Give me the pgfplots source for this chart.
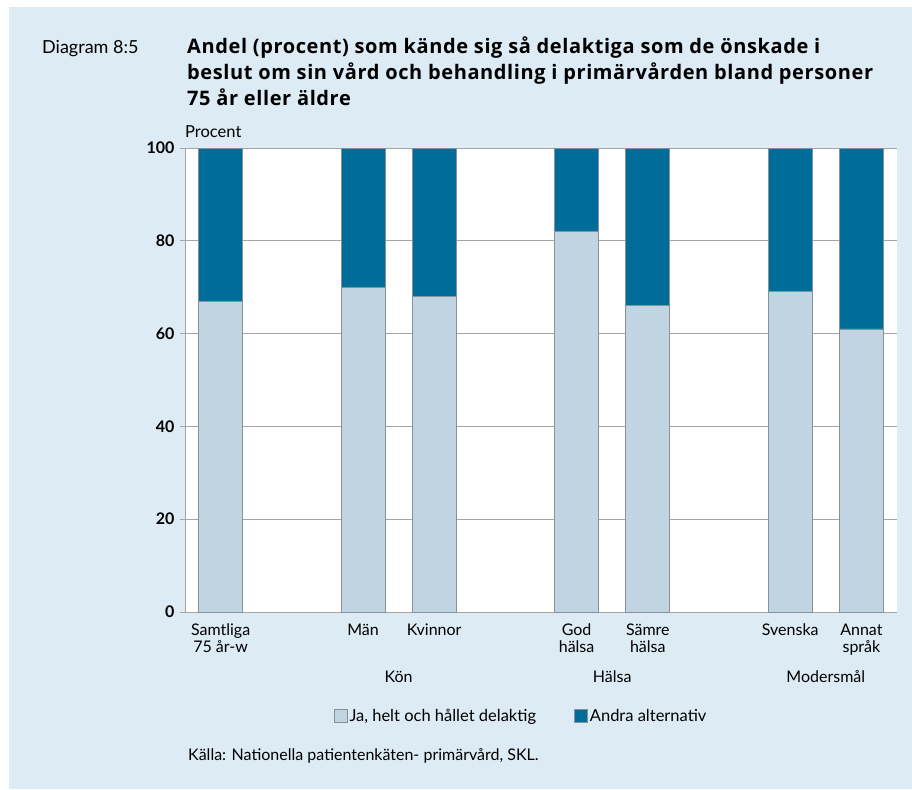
\documentclass[border=0pt]{standalone}
\usepackage{pgfplots}
\pgfplotsset{compat=1.18}
\usepackage{fontspec}
\setmainfont{Lato}
\newfontfamily\titlefont[LetterSpace=3]{Open Sans}
\definecolor{panel}{RGB}{220,235,244}
\definecolor{lightbar}{RGB}{193,212,226}
\definecolor{darkbar}{RGB}{0,108,154}
\definecolor{edge}{RGB}{135,145,155}
\definecolor{gridc}{RGB}{165,165,165}
\begin{document}
\begin{tikzpicture}[x=1pt,y=1pt]
\useasboundingbox (0,0) rectangle (912,-789);
\fill[white] (0,0) rectangle (912,-789);
\fill[panel] (9,-7) rectangle (912,-789);
\node[anchor=base west, inner sep=0, font=\fontsize{18}{18}\selectfont] at (42,-54) {Diagram 8:5};
\node[anchor=base west, inner sep=0, font=\fontsize{20}{22}\selectfont\titlefont\bfseries] at (187,-54) {Andel (procent) som kände sig så delaktiga som de önskade i};
\node[anchor=base west, inner sep=0, font=\fontsize{20}{22}\selectfont\titlefont\bfseries] at (187,-80) {beslut om sin vård och behandling i primärvården bland personer};
\node[anchor=base west, inner sep=0, font=\fontsize{20}{22}\selectfont\titlefont\bfseries] at (187,-106) {75 år eller äldre};
\node[anchor=base west, inner sep=0, font=\fontsize{16.5}{16.5}\selectfont] at (185,-138) {Procent};
\begin{axis}[
  at={(185pt,-612pt)}, anchor=south west,
  scale only axis, width=712pt, height=464pt,
  ybar stacked, bar width=44pt,
  xmin=-0.5, xmax=9.5, ymin=0, ymax=100,
  axis background/.style={fill=white},
  clip=false,
  axis x line*=bottom, axis y line*=left,
  axis line style={draw=gridc, line width=0.8pt, -},
  xtick={0,2,3,5,6,8,9},
  xticklabels={{Samtliga\\75 år-w},Män,Kvinnor,{God\\hälsa},{Sämre\\hälsa},Svenska,{Annat\\språk}},
  xtick style={draw=none},
  xticklabel style={align=center, font=\fontsize{16}{17}\selectfont, yshift=-3pt},
  ytick={0,20,40,60,80,100},
  ytick style={draw=gridc, line width=0.8pt},
  tick align=outside, major tick length=5pt,
  yticklabel style={font=\fontsize{16}{16}\selectfont\bfseries, xshift=-2pt},
  /pgf/number format/assume math mode=true,
  ymajorgrids, major grid style={draw=gridc, line width=0.8pt},
  legend columns=2,
  legend style={at={(0.472,-0.224)}, anchor=center, draw=none, fill=none,
    font=\fontsize{16.5}{16.5}\selectfont,
    /tikz/every even column/.append style={column sep=36pt}},
  legend image code/.code={\draw[#1,draw=edge] (0pt,-6pt) rectangle (13pt,7pt);},
]
\addplot[fill=lightbar, draw=edge, line width=0.8pt] coordinates {(0,67) (2,70) (3,68) (5,82) (6,66) (8,69) (9,61)};
\addplot[fill=darkbar, draw=edge, line width=0.8pt] coordinates {(0,33) (2,30) (3,32) (5,18) (6,34) (8,31) (9,39)};
\legend{{Ja, helt och hållet delaktig},{Andra alternativ}}
\node[anchor=base, font=\fontsize{16}{16}\selectfont] at (axis cs:2.5,-15.1) {Kön};
\node[anchor=base, font=\fontsize{16}{16}\selectfont] at (axis cs:5.5,-15.1) {Hälsa};
\node[anchor=base, font=\fontsize{16}{16}\selectfont] at (axis cs:8.5,-15.1) {Modersmål};
\end{axis}
\node[anchor=base west, inner sep=0, font=\fontsize{16}{16}\selectfont] at (188,-760) {Källa: Nationella patientenkäten- primärvård, SKL.};
\end{tikzpicture}
\end{document}
